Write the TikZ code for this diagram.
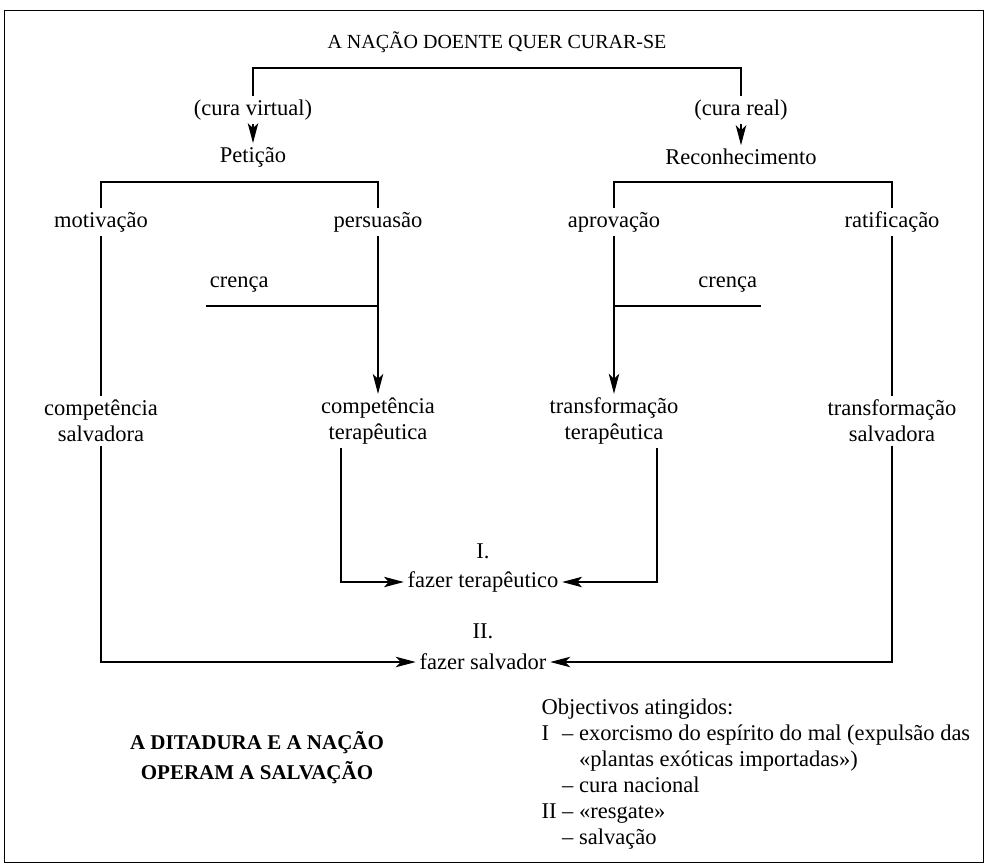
\documentclass[tikz,border=0pt]{standalone}
\usepackage{fontspec}
\setmainfont{Liberation Serif}
\usepackage{tikz}
\usetikzlibrary{arrows.meta}

\begin{document}
\begin{tikzpicture}[x=1pt,y=-1pt,
	every node/.style={font=\fontsize{22.5}{26}\selectfont},
	box/.style={align=center},
	arr/.style={->,>={Stealth[length=20pt,width=10.5pt,inset=5pt]}},
	line width=1.1pt]
	\useasboundingbox (0,0) rectangle (986,865);
	\draw[line width=1pt] (4,10) rectangle (983,862);

	\def\lx{341}  %left foot of the cure branch
	\def\rx{657}  %right foot of the cure branch

	\node[font=\fontsize{20}{24}\selectfont] (title) at (497,42) {A NAÇÃO DOENTE QUER CURAR-SE};
	\node (cv) at (253,110) {(cura virtual)};
	\node (cr) at (741,110) {(cura real)};
	\node (pet) at (253,157) {Petição};
	\node (rec) at (741,157) {Reconhecimento};

	\node (mot) at (101,222) {motivação};
	\node (per) at (378,222) {persuasão};
	\node (apr) at (614,222) {aprovação};
	\node (rat) at (892,222) {ratificação};

	\node[anchor=west] (cre1) at (206,285) {crença};
	\node[anchor=east] (cre2) at (761,285) {crença};

	\node[box] (cs) at (101,421) {competência\\salvadora};
	\node[box] (ct) at (378,421) {competência\\terapêutica};
	\node[box] (tt) at (614,421) {transformação\\terapêutica};
	\node[box] (ts) at (892,421) {transformação\\salvadora};

	\node (one) at (483,551) {I.};
	\node (ft) at (483,582) {fazer terapêutico};
	\node (two) at (483,631) {II.};
	\node (fs) at (483,662) {fazer salvador};

	\node[box,font=\fontsize{21}{30}\selectfont\bfseries] (op) at (257,758) {A DITADURA E A NAÇÃO\\OPERAM A SALVAÇÃO};

	\node[anchor=north west,inner sep=0pt] (obj) at (541,696) {%
		\begin{tabular}{@{}l@{\ }l@{}}
			\multicolumn{2}{@{}l@{}}{Objectivos atingidos:}\\
			I  & – exorcismo do espírito do mal (expulsão das\\
			   & \hphantom{– }«plantas exóticas importadas»)\\
			   & – cura nacional\\
			II & – «resgate»\\
			   & – salvação
		\end{tabular}};

	%BRACKETS
	\coordinate (b0) at (497,68);
	\draw (cv.north) |- (b0) -| (cr.north);
	\coordinate (b1) at (240,182);
	\draw (mot.north) |- (b1) -| (per.north);
	\coordinate (b2) at (753,182);
	\draw (apr.north) |- (b2) -| (rat.north);

	%MAIN ARROWS
	\draw[arr] (cv) -- (pet);
	\draw[arr] (cr) -- (rec);
	\draw (mot) -- (cs);
	\draw[arr] (per) -- (ct);
	\draw[arr] (apr) -- (tt);
	\draw (rat) -- (ts);

	%BELIEF
	\coordinate (c1) at (cre1.west |- 0,306);
	\draw (c1) -- (c1 -| per);
	\coordinate (c2) at (cre2.east |- 0,306);
	\draw (c2) -- (c2 -| apr);

	%TO THE DOING
	\draw[arr] (ct.south -| \lx,0) |- (ft);
	\draw[arr] (tt.south -| \rx,0) |- (ft);
	\draw[arr] (cs) |- (fs);
	\draw[arr] (ts) |- (fs);
\end{tikzpicture}
\end{document}
